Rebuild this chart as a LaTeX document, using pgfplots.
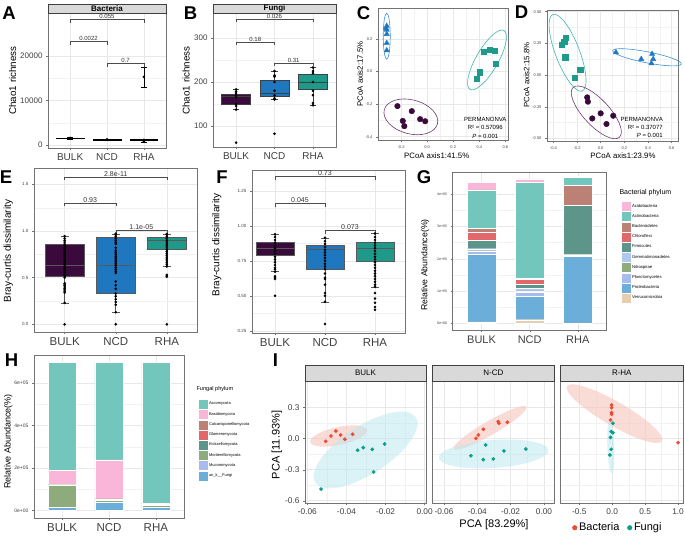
\documentclass[border=0pt]{standalone}
\usepackage{pgfplots}
\pgfplotsset{compat=1.18}
\usepackage{fontspec}
\setmainfont{Liberation Sans}
\newcommand{\fs}[1]{\fontsize{#1}{#1}\selectfont}

\definecolor{cBulk}{HTML}{3A0A3C}
\definecolor{cNcd}{HTML}{1F77C0}
\definecolor{cRha}{HTML}{1E9A8A}
\definecolor{stripc}{HTML}{D9D9D9}
\definecolor{eBulk}{HTML}{6E3B70}
\definecolor{eBlue}{HTML}{3B8FD5}
\definecolor{eTeal}{HTML}{3FB8AC}
\definecolor{iRed}{HTML}{EC4A35}
\definecolor{iTeal}{HTML}{0A9F88}
\definecolor{iRedF}{HTML}{F7C4BC}
\definecolor{iTealF}{HTML}{B8E8EF}
% phylum colours (already blended with white)
\definecolor{pAcido}{HTML}{F9B6D9}
\definecolor{pActino}{HTML}{72C6BC}
\definecolor{pBactero}{HTML}{BB8174}
\definecolor{pChloro}{HTML}{E1676B}
\definecolor{pFirmi}{HTML}{5E958B}
\definecolor{pGemma}{HTML}{AFC8EE}
\definecolor{pNitro}{HTML}{8EAB7B}
\definecolor{pPlancto}{HTML}{A7BCEC}
\definecolor{pProteo}{HTML}{6CAEDA}
\definecolor{pVerru}{HTML}{E6CFB1}

% bracket: x1, x2, ytop, yfoot, label, font size
\newcommand{\brk}[6]{\draw[black!70, line width=0.45pt] (axis cs:#1,#4) -- (axis cs:#1,#3) -- node[above, font=\fs{#6}, inner sep=0.6pt, text=black!80] {#5} (axis cs:#2,#3) -- (axis cs:#2,#4);}

% box: position, half width, lower whisker, q1, median, q3, upper whisker, fill, line colour
\newcommand{\bxp}[9]{%
  \pgfmathsetmacro\bl{#1-#2}\pgfmathsetmacro\br{#1+#2}%
  \pgfmathsetmacro\cl{#1-0.08}\pgfmathsetmacro\cr{#1+0.08}%
  \addplot[#9, line width=0.5pt] coordinates {(#1,#3) (#1,#4)};
  \addplot[#9, line width=0.5pt] coordinates {(#1,#6) (#1,#7)};
  \addplot[#9, line width=0.5pt] coordinates {(\cl,#3) (\cr,#3)};
  \addplot[#9, line width=0.5pt] coordinates {(\cl,#7) (\cr,#7)};
  \addplot[fill=#8, draw=#9, line width=0.5pt] coordinates {(\bl,#4) (\br,#4) (\br,#6) (\bl,#6)} -- cycle;
  \addplot[#9, line width=0.7pt] coordinates {(\bl,#5) (\br,#5)};
}

\tikzset{strip/.style={at={(0.5,1)}, anchor=south, fill=stripc, draw=black!75,
    line width=0.4pt, inner sep=0pt, yshift=-6pt}}

\pgfplotsset{
  gg/.style={scale only axis, anchor=north west, clip=false,
    axis line style={draw=black!55, line width=0.5pt},
    tick style={draw=black!55, line width=0.4pt},
    tick align=outside, major tick length=2pt, minor tick length=0pt,
    xtick pos=left, ytick pos=left,
    scaled ticks=false,
    grid=both, major grid style={draw=black!9, line width=0.5pt},
    minor grid style={draw=black!5, line width=0.3pt},
    ticklabel style={text=black!75},
    /pgf/number format/assume math mode=true},
  cat/.style={xmin=0.4, xmax=3.6, xtick={1,2,3}, xticklabels={BULK,NCD,RHA}},
  pts/.style={only marks, mark=*, mark size=1.1pt, black},
  stk/.style={ybar stacked, bar width=0.6, reverse legend,
    legend image code/.code={\fill[##1] (0pt,-5pt) rectangle (10pt,5pt);},
    legend cell align=left},
  seg/.style={fill=#1, draw=white, line width=0.2pt},
}

\begin{document}
\begin{tikzpicture}
\useasboundingbox (0,0) rectangle (685pt,-537pt);

% ---------------- A (values in thousands) ----------------
\begin{axis}[gg, cat, at={(48pt,-13pt)}, width=118pt, height=135pt,
  ymin=-0.7, ymax=29.7, ytick={0,10,20}, yticklabels={0,10000,20000},
  minor y tick num=1,
  xticklabel style={font=\fs{10}}, yticklabel style={font=\fs{8}},
  title={Bacteria}, title style={strip, minimum width=118pt, minimum height=9pt, font=\fs{8}\bfseries}]
\bxp{1}{0.375}{1.30}{1.40}{1.48}{1.56}{1.65}{black}{black}
\bxp{2}{0.375}{1.00}{1.08}{1.13}{1.20}{1.26}{black}{black}
\bxp{3}{0.375}{0.70}{0.95}{1.05}{1.20}{1.35}{black}{black}
% error bar of the RHA outlier
\addplot[black, line width=0.5pt] coordinates {(3,13.05) (3,17.55)};
\addplot[black, line width=0.5pt] coordinates {(2.925,13.05) (3.075,13.05)};
\addplot[black, line width=0.5pt] coordinates {(2.925,17.55) (3.075,17.55)};
\addplot[pts] coordinates {(1,1.50) (1,1.56) (2,1.15) (2,1.20) (3,0.80) (3,1.10) (3,15.3)};
\brk{1}{3}{28.3}{27.5}{0.055}{6}
\brk{1}{2}{23.4}{22.6}{0.0022}{6}
\brk{2}{3}{18.4}{17.6}{0.7}{6}
\end{axis}

% ---------------- B ----------------
\begin{axis}[gg, cat, at={(213pt,-13pt)}, width=123pt, height=134pt,
  ymin=52, ymax=357, ytick={100,200,300}, yticklabels={100,200,300},
  minor y tick num=1,
  xticklabel style={font=\fs{10}}, yticklabel style={font=\fs{8}},
  title={Fungi}, title style={strip, minimum width=123pt, minimum height=9pt, font=\fs{8}\bfseries}]
\bxp{1}{0.375}{137}{150}{168}{173}{183}{cBulk}{black!75}
\bxp{2}{0.375}{160}{168}{175}{203}{225}{cNcd}{black!75}
\bxp{3}{0.375}{147}{183}{200}{218}{233}{cRha}{black!75}
\addplot[pts] coordinates {(1,62) (1,137) (1,145) (1,150) (1,165) (1,170) (1,175) (1,178) (1,183)
  (2,82) (2,160) (2,163) (2,170) (2,180) (2,200) (2,212) (2,215) (2,225)
  (3,147) (3,152) (3,170) (3,180) (3,200) (3,220) (3,225) (3,233)};
\brk{1}{3}{343}{336}{0.026}{6}
\brk{1}{2}{291}{284}{0.18}{6}
\brk{2}{3}{243}{236}{0.31}{6}
\end{axis}

% ---------------- C ----------------
\begin{axis}[gg, at={(378pt,-8pt)}, width=130pt, height=132pt,
  xmin=-0.377, xmax=0.62, ymin=-0.42, ymax=0.39,
  xtick={-0.2,0,0.2,0.4,0.6}, xticklabels={-0.2,0.0,0.2,0.4,0.6},
  ytick={-0.4,-0.2,0,0.2}, yticklabels={-0.4,-0.2,0.0,0.2},
  minor tick num=1, ticklabel style={font=\fs{4}}]
\draw[eBlue, line width=0.6pt, rotate around={90:(axis cs:-0.31,0.217)}] (axis cs:-0.31,0.217) ellipse [x radius=23pt, y radius=3.5pt];
\draw[eTeal, line width=0.6pt, rotate around={60:(axis cs:0.459,0.071)}] (axis cs:0.459,0.071) ellipse [x radius=34pt, y radius=11pt];
\draw[eBulk, line width=0.6pt, rotate around={-15:(axis cs:-0.125,-0.278)}] (axis cs:-0.125,-0.278) ellipse [x radius=27.5pt, y radius=17pt];
\addplot[only marks, mark=triangle*, mark size=3pt, color=cNcd] coordinates {(-0.31,0.28) (-0.31,0.255) (-0.31,0.23) (-0.31,0.175) (-0.31,0.13) (-0.315,0.265)};
\addplot[only marks, mark=square*, mark size=2.6pt, color=cRha] coordinates {(0.433,0.122) (0.479,0.132) (0.515,0.128) (0.528,0.046) (0.402,-0.004) (0.382,-0.046)};
\addplot[only marks, mark=*, mark size=2.8pt, color=cBulk] coordinates {(-0.228,-0.212) (-0.118,-0.243) (-0.187,-0.303) (-0.175,-0.335) (-0.054,-0.292) (-0.015,-0.305)};
\node[font={\fontsize{6}{8.3}\selectfont}, align=center] at (axis cs:0.446,-0.345) {PERMANONVA\\R² = 0.57096\\\textit{P} = 0.001};
\end{axis}

% ---------------- D ----------------
\begin{axis}[gg, at={(547pt,-10pt)}, width=131pt, height=131pt,
  xmin=-0.454, xmax=0.654, ymin=-0.52, ymax=0.513,
  xtick={-0.4,-0.2,0,0.2,0.4,0.6}, xticklabels={-0.4,-0.2,0.0,0.2,0.4,0.6},
  ytick={-0.5,-0.25,0,0.25,0.5}, yticklabels={-0.50,-0.25,0.00,0.25,0.50},
  minor tick num=1, ticklabel style={font=\fs{4}}]
\draw[eTeal, line width=0.6pt, rotate around={111:(axis cs:-0.28,0.176)}] (axis cs:-0.28,0.176) ellipse [x radius=41pt, y radius=12pt];
\draw[eBlue, line width=0.6pt, rotate around={-11:(axis cs:0.392,0.14)}] (axis cs:0.392,0.14) ellipse [x radius=35pt, y radius=5.5pt];
\draw[eBulk, line width=0.6pt, rotate around={-47:(axis cs:-0.037,-0.294)}] (axis cs:-0.037,-0.294) ellipse [x radius=34pt, y radius=13pt];
\addplot[only marks, mark=triangle*, mark size=3pt, color=cNcd] coordinates {(0.129,0.179) (0.343,0.126) (0.435,0.166) (0.444,0.126) (0.429,0.092)};
\addplot[only marks, mark=square*, mark size=2.6pt, color=cRha] coordinates {(-0.294,0.297) (-0.309,0.263) (-0.331,0.237) (-0.30,0.140) (-0.174,0.045) (-0.217,-0.021)};
\addplot[only marks, mark=*, mark size=2.8pt, color=cBulk] coordinates {(-0.114,-0.176) (-0.108,-0.21) (-0.071,-0.342) (0.0,-0.302) (0.049,-0.386) (0.106,-0.321)};
\node[font={\fontsize{6}{8.3}\selectfont}, align=right, anchor=east] at (axis cs:0.555,-0.414) {PERMANONVA\\R² = 0.37077\\\textit{P} = 0.001};
\end{axis}

% ---------------- E ----------------
\begin{axis}[gg, cat, at={(34pt,-168pt)}, width=163.5pt, height=164pt,
  ymin=-0.082, ymax=1.675, ytick={0,0.5,1,1.5}, yticklabels={0.0,0.5,1.0,1.5},
  minor y tick num=1,
  xticklabel style={font=\fs{11.5}}, yticklabel style={font=\fs{4.5}}]
\bxp{1}{0.3875}{0.23}{0.52}{0.63}{0.855}{0.945}{cBulk}{black!65}
\bxp{2}{0.3875}{0.13}{0.332}{0.629}{0.929}{0.97}{cNcd}{black!65}
\bxp{3}{0.3875}{0.618}{0.804}{0.904}{0.929}{0.968}{cRha}{black!65}
\addplot[pts] coordinates {(1,0.0) (1,0.23) (1,0.34) (1,0.355) (1,0.37) (1,0.385) (1,0.40) (1,0.415) (1,0.43) (1,0.44)
  (1,0.50) (1,0.52) (1,0.54) (1,0.56) (1,0.58) (1,0.60) (1,0.62) (1,0.64) (1,0.66) (1,0.68) (1,0.70) (1,0.72)
  (1,0.74) (1,0.76) (1,0.78) (1,0.80) (1,0.82) (1,0.84) (1,0.86) (1,0.88) (1,0.90) (1,0.92) (1,0.945)};
\addplot[pts] coordinates {(2,0.0) (2,0.13) (2,0.21) (2,0.24) (2,0.27) (2,0.30) (2,0.33) (2,0.38) (2,0.42) (2,0.46)
  (2,0.55) (2,0.57) (2,0.59) (2,0.61) (2,0.63) (2,0.65) (2,0.67) (2,0.69) (2,0.71) (2,0.73) (2,0.75) (2,0.77)
  (2,0.79) (2,0.82) (2,0.86) (2,0.88) (2,0.90) (2,0.92) (2,0.94) (2,0.96) (2,0.97)};
\addplot[pts] coordinates {(3,0.0) (3,0.51) (3,0.52) (3,0.53) (3,0.62) (3,0.64) (3,0.66) (3,0.68) (3,0.70) (3,0.72)
  (3,0.74) (3,0.76) (3,0.78) (3,0.80) (3,0.82) (3,0.84) (3,0.86) (3,0.88) (3,0.90) (3,0.92) (3,0.94) (3,0.96) (3,0.968)};
\brk{1}{3}{1.578}{1.545}{2.8e-11}{7}
\brk{1}{2}{1.297}{1.265}{0.93}{7}
\brk{2}{3}{1.005}{0.972}{1.1e-05}{7}
\end{axis}

% ---------------- F ----------------
\begin{axis}[gg, at={(252pt,-170pt)}, width=153pt, height=163pt,
  xmin=0.54, xmax=3.6, xtick={1,2,3}, xticklabels={BULK,NCD,RHA},
  ymin=0.234, ymax=1.40, ytick={0.25,0.5,0.75,1,1.25}, yticklabels={0.25,0.50,0.75,1.00,1.25},
  minor y tick num=1,
  xticklabel style={font=\fs{11.5}}, yticklabel style={font=\fs{4.5}}]
\bxp{1}{0.375}{0.673}{0.789}{0.839}{0.88}{0.94}{cBulk}{black!65}
\bxp{2}{0.375}{0.457}{0.688}{0.83}{0.862}{0.915}{cNcd}{black!65}
\bxp{3}{0.375}{0.564}{0.75}{0.843}{0.882}{0.946}{cRha}{black!65}
\addplot[pts] coordinates {(1,0.50) (1,0.62) (1,0.63) (1,0.64) (1,0.673) (1,0.69) (1,0.70) (1,0.72) (1,0.74) (1,0.76)
  (1,0.78) (1,0.80) (1,0.82) (1,0.84) (1,0.86) (1,0.88) (1,0.90) (1,0.92) (1,0.94)};
\addplot[pts] coordinates {(2,0.298) (2,0.457) (2,0.50) (2,0.52) (2,0.58) (2,0.62) (2,0.63) (2,0.66) (2,0.69) (2,0.71)
  (2,0.73) (2,0.75) (2,0.77) (2,0.79) (2,0.81) (2,0.83) (2,0.85) (2,0.87) (2,0.89) (2,0.915)};
\addplot[pts] coordinates {(3,0.40) (3,0.42) (3,0.45) (3,0.48) (3,0.52) (3,0.564) (3,0.58) (3,0.60) (3,0.62) (3,0.64)
  (3,0.66) (3,0.68) (3,0.70) (3,0.72) (3,0.74) (3,0.76) (3,0.78) (3,0.80) (3,0.82) (3,0.84) (3,0.86) (3,0.88)
  (3,0.90) (3,0.92) (3,0.946)};
\brk{1}{3}{1.357}{1.33}{0.73}{7}
\brk{1}{2}{1.162}{1.135}{0.045}{7}
\brk{2}{3}{0.966}{0.94}{0.073}{7}
\end{axis}

% ---------------- G ----------------
\begin{axis}[gg, cat, stk, at={(452.7pt,-172pt)}, width=154pt, height=158pt,
  ymin=-0.2, ymax=4.68, ytick={0,1,2,3,4}, yticklabels={0e+00,1e+05,2e+05,3e+05,4e+05},
  minor y tick num=1,
  xticklabel style={font=\fs{11}}, yticklabel style={font=\fs{3.6}},
  legend style={at={(1.0734,0.829)}, anchor=north west, draw=none, fill=none,
    font=\fs{4.2}, row sep=0pt, nodes={inner sep=0.6pt}}]
\addplot[seg=pVerru] coordinates {(1,0.05) (2,0.12) (3,0.01)};
\addlegendentry{Verrucomicrobia}
\addplot[seg=pProteo] coordinates {(1,2.08) (2,0.72) (3,2.07)};
\addlegendentry{Proteobacteria}
\addplot[seg=pPlancto] coordinates {(1,0.10) (2,0.14) (3,0.04)};
\addlegendentry{Planctomycetes}
\addplot[seg=pNitro] coordinates {(1,0.02) (2,0.03) (3,0.005)};
\addlegendentry{Nitrospirae}
\addplot[seg=pGemma] coordinates {(1,0.06) (2,0.07) (3,0.02)};
\addlegendentry{Gemmatimonadetes}
\addplot[seg=pFirmi] coordinates {(1,0.26) (2,0.13) (3,1.51)};
\addlegendentry{Firmicutes}
\addplot[seg=pChloro] coordinates {(1,0.26) (2,0.16) (3,0.0)};
\addlegendentry{Chloroflexi}
\addplot[seg=pBactero] coordinates {(1,0.12) (2,0.02) (3,0.62)};
\addlegendentry{Bacteroidetes}
\addplot[seg=pActino] coordinates {(1,1.18) (2,2.98) (3,0.25)};
\addlegendentry{Actinobacteria}
\addplot[seg=pAcido] coordinates {(1,0.24) (2,0.10) (3,0.02)};
\addlegendentry{Acidobacteria}
\end{axis}

% ---------------- H ----------------
\begin{axis}[gg, cat, stk, at={(34pt,-355pt)}, width=150pt, height=163pt,
  ymin=-0.36, ymax=7.33, ytick={0,2,4,6}, yticklabels={0e+00,2e+05,4e+05,6e+05},
  minor y tick num=1,
  xticklabel style={font=\fs{11.5}}, yticklabel style={font=\fs{5}},
  legend style={at={(1.073,0.742)}, anchor=north west, draw=none, fill=none,
    font=\fs{4}, row sep=0pt, nodes={inner sep=0.65pt}}]
\addplot[seg=pProteo] coordinates {(1,0.14) (2,0.38) (3,0.14)};
\addlegendentry{un\_k\_\_Fungi}
\addplot[seg=pPlancto] coordinates {(1,0.0) (2,0.01) (3,0.01)};
\addlegendentry{Mucoromycota}
\addplot[seg=pNitro] coordinates {(1,1.07) (2,0.08) (3,0.09)};
\addlegendentry{Mortierellomycota}
\addplot[seg=pFirmi] coordinates {(1,0.01) (2,0.01) (3,0.01)};
\addlegendentry{Kickxellomycota}
\addplot[seg=pChloro] coordinates {(1,0.0) (2,0.01) (3,0.0)};
\addlegendentry{Glomeromycota}
\addplot[seg=pBactero] coordinates {(1,0.01) (2,0.06) (3,0.03)};
\addlegendentry{Calcarisporiellomycota}
\addplot[seg=pAcido] coordinates {(1,0.65) (2,1.83) (3,0.04)};
\addlegendentry{Basidiomycota}
\addplot[seg=pActino] coordinates {(1,5.10) (2,4.60) (3,6.66)};
\addlegendentry{Ascomycota}
\end{axis}

% ---------------- I ----------------
\begin{axis}[gg, at={(305pt,-381pt)}, width=121pt, height=122.3pt,
  xmin=-0.0612, xmax=0.0007, ymin=-0.625, ymax=0.558,
  xtick={-0.06,-0.04,-0.02,0}, xticklabels={-0.06,-0.04,-0.02,0.00},
  ytick={-0.6,-0.3,0,0.3}, yticklabels={-0.6,-0.3,0.0,0.3},
  minor tick num=1, ticklabel style={font=\fs{8.3}},
  title={BULK}, title style={strip, minimum width=121pt, minimum height=16pt, font=\fs{8}}]
\fill[iRedF, fill opacity=0.6, rotate around={12:(axis cs:-0.044,0.026)}] (axis cs:-0.044,0.026) ellipse [x radius=29pt, y radius=9pt];
\fill[iTealF, fill opacity=0.5, rotate around={33:(axis cs:-0.0302,-0.109)}] (axis cs:-0.0302,-0.109) ellipse [x radius=60pt, y radius=24pt];
\addplot[only marks, mark=*, mark size=1.7pt, color=iRed] coordinates {(-0.0506,-0.025) (-0.0479,0.026) (-0.0454,0.074) (-0.043,0.036) (-0.0408,-0.006) (-0.0368,0.043)};
\addplot[only marks, mark=*, mark size=1.7pt, color=iTeal] coordinates {(-0.053,-0.487) (-0.0343,-0.112) (-0.0314,-0.087) (-0.0268,-0.103) (-0.0261,-0.322) (-0.0205,-0.051)};
\end{axis}

\begin{axis}[gg, at={(432.3pt,-381pt)}, width=122pt, height=122.3pt,
  xmin=-0.067, xmax=0.0062, ymin=-0.625, ymax=0.558,
  xtick={-0.06,-0.04,-0.02,0}, xticklabels={-0.06,-0.04,-0.02,0.00},
  ytick={-0.6,-0.3,0,0.3}, yticklabels={}, ytick style={draw=none},
  minor tick num=1, ticklabel style={font=\fs{8.3}},
  title={N-CD}, title style={strip, minimum width=122pt, minimum height=16pt, font=\fs{8}}]
\fill[iRedF, fill opacity=0.6, rotate around={30:(axis cs:-0.0324,0.104)}] (axis cs:-0.0324,0.104) ellipse [x radius=42pt, y radius=7pt];
\fill[iTealF, fill opacity=0.5, rotate around={4:(axis cs:-0.0302,-0.148)}] (axis cs:-0.0302,-0.148) ellipse [x radius=55pt, y radius=14pt];
\addplot[only marks, mark=*, mark size=1.7pt, color=iRed] coordinates {(-0.0408,0.004) (-0.0394,0.036) (-0.0364,0.091) (-0.0274,0.165) (-0.0271,0.149) (-0.022,0.159)};
\addplot[only marks, mark=*, mark size=1.7pt, color=iTeal] coordinates {(-0.0438,-0.165) (-0.0364,-0.203) (-0.035,-0.061) (-0.0304,-0.196) (-0.024,-0.119) (-0.0109,-0.1)};
\end{axis}

\begin{axis}[gg, at={(560.3pt,-381pt)}, width=123pt, height=122.3pt,
  xmin=-0.789, xmax=1.08, ymin=-0.625, ymax=0.558,
  xtick={-0.5,0,0.5,1}, xticklabels={-0.5,0.0,0.5,1.0},
  ytick={-0.6,-0.3,0,0.3}, yticklabels={}, ytick style={draw=none},
  minor tick num=1, ticklabel style={font=\fs{8.3}},
  title={R-HA}, title style={strip, minimum width=123pt, minimum height=16pt, font=\fs{8}},
  legend image post style={mark size=2.3pt},
  legend style={at={(0.469,-0.2)}, anchor=center, legend columns=2, draw=none, fill=none,
    font=\fs{11}, /tikz/every even column/.append style={column sep=6pt}}]
\fill[iRedF, fill opacity=0.6, rotate around={-30:(axis cs:0.035,0.242)}] (axis cs:0.035,0.242) ellipse [x radius=55pt, y radius=12pt];
\fill[iTealF, fill opacity=0.5, rotate around={92:(axis cs:-0.021,-0.077)}] (axis cs:-0.021,-0.077) ellipse [x radius=27pt, y radius=3.5pt];
\addplot[only marks, mark=*, mark size=1.7pt, color=iRed] coordinates {(-0.01,0.326) (-0.01,0.30) (-0.01,0.252) (-0.01,0.236) (-0.026,0.181) (1.0,-0.039)};
\addlegendentry{Bacteria}
\addplot[only marks, mark=*, mark size=1.7pt, color=iTeal] coordinates {(0.01,0.149) (-0.016,0.068) (0.01,0.058) (-0.026,0.013) (-0.016,-0.103) (-0.036,-0.158)};
\addlegendentry{Fungi}
\end{axis}

% ---------------- titles, labels ----------------
\node[font=\fs{18.5}\bfseries] at (9pt,-13.3pt) {A};
\node[font=\fs{18.5}\bfseries] at (190.5pt,-13.5pt) {B};
\node[font=\fs{18.5}\bfseries] at (363.5pt,-13pt) {C};
\node[font=\fs{18.5}\bfseries] at (521.5pt,-12pt) {D};
\node[font=\fs{18.5}\bfseries] at (6pt,-177pt) {E};
\node[font=\fs{18.5}\bfseries] at (222pt,-177pt) {F};
\node[font=\fs{18.5}\bfseries] at (424pt,-177pt) {G};
\node[font=\fs{18.5}\bfseries] at (11.5pt,-360pt) {H};
\node[font=\fs{18.5}\bfseries] at (275.5pt,-360pt) {I};

\node[rotate=90, font=\fs{9.8}] at (12.7pt,-80.5pt) {Chao1 richness};
\node[rotate=90, font=\fs{9.8}] at (186pt,-80.5pt) {Chao1 richness};
\node[rotate=90, font=\fs{7.8}] at (360pt,-74pt) {PCoA axis2:17.5\%};
\node[font=\fs{7.8}] at (436.7pt,-156pt) {PCoA axis1:41.5\%};
\node[rotate=90, font=\fs{7.8}] at (526.7pt,-75pt) {PCoA axis2:15.8\%};
\node[font=\fs{7.8}] at (623pt,-156pt) {PCoA axis1:23.9\%};
\node[rotate=90, font=\fs{10}] at (8.3pt,-251pt) {Bray-curtis dissimilarity};
\node[rotate=90, font=\fs{10}] at (216.7pt,-245pt) {Bray-curtis dissimilarity};
\node[rotate=90, font=\fs{8.7}] at (425pt,-265pt) {Relative Abundance(\%)};
\node[rotate=90, font=\fs{9}] at (8.3pt,-441.7pt) {Relative Abundance(\%)};
\node[rotate=90, font=\fs{11}] at (276.7pt,-445pt) {PCA [11.93\%]};
\node[font=\fs{11}] at (494pt,-525pt) {PCA [83.29\%]};
\node[font=\fs{7}, anchor=west] at (616pt,-193pt) {Bacterial phylum};
\node[font=\fs{5.6}, anchor=west] at (193pt,-389pt) {Fungal phylum};
\end{tikzpicture}
\end{document}
